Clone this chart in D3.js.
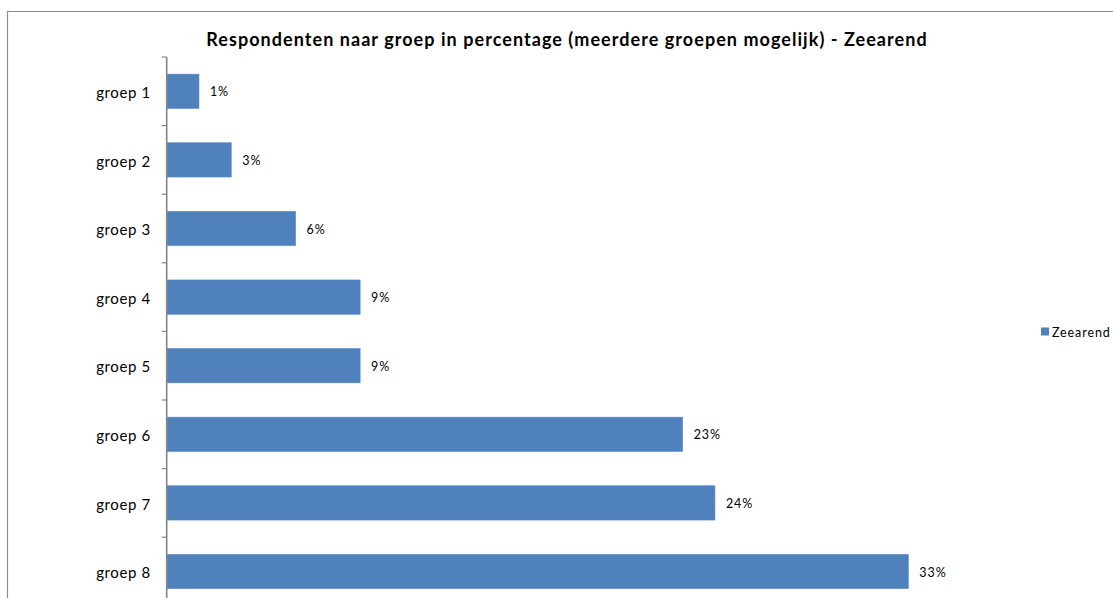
<!DOCTYPE html>
<html><head><meta charset="utf-8">
<script src="https://cdn.jsdelivr.net/npm/d3@7"></script>
<style>body{margin:0;background:#fff}svg{display:block}text{font-family:Lato,"Open Sans",sans-serif}</style>
</head><body><svg id="c" width="1113" height="598"></svg>
<script>
const categories = ["groep 1","groep 2","groep 3","groep 4","groep 5","groep 6","groep 7","groep 8"];
const values = [1.43, 2.86, 5.71, 8.57, 8.57, 22.86, 24.29, 32.86];
const seriesName = "Zeearend";
const titleText = "Respondenten naar groep in percentage (meerdere groepen mogelijk) - Zeearend";

const svg = d3.select("#c");
const plotLeft = 166.7, plotTop = 57, bandH = 68.6;
const x = d3.scaleLinear().domain([0, 35]).range([plotLeft, plotLeft + 35 * 22.57]);
const y = d3.scaleBand().domain(categories).range([plotTop, plotTop + bandH * categories.length]).paddingInner(0.5).paddingOuter(0.25);

// chart border
svg.append("path").attr("d", "M7.5,610V11.5H1120").attr("fill","none").attr("stroke","#8c8c8c").attr("stroke-width",1.2);

// title
svg.append("text").attr("x", 567).attr("y", 46).attr("text-anchor","middle")
  .attr("font-size", 18).attr("font-weight","bold").attr("letter-spacing", 1.05).attr("fill","#000").text(titleText);

// bars
svg.selectAll("rect.bar").data(values).join("rect").attr("class","bar")
  .attr("x", x(0)).attr("y", (d,i)=>y(categories[i]))
  .attr("width", d=>x(d)-x(0)).attr("height", y.bandwidth())
  .attr("fill","#4f81bd").attr("stroke","#5b8bc6").attr("stroke-width",0.6);

// data labels
svg.selectAll("text.lbl").data(values).join("text").attr("class","lbl")
  .attr("x", d=>x(d)+11).attr("y", (d,i)=>y(categories[i])+y.bandwidth()/2)
  .attr("dy","0.4em").attr("font-size", 12.5).attr("letter-spacing", 0.9).attr("fill","#000")
  .text(d=>Math.round(d)+"%");

// y axis
const yAxis = d3.axisLeft(y).tickSize(0).tickPadding(16);
const g = svg.append("g").attr("transform",`translate(${plotLeft},0)`).call(yAxis);
g.select(".domain").remove();
g.selectAll("text").attr("font-size", 15).attr("fill","#000").attr("letter-spacing", 0.6).attr("dy","0.45em").style("font-family","Lato,sans-serif");
// axis line and boundary ticks
svg.append("line").attr("x1",plotLeft).attr("x2",plotLeft).attr("y1",plotTop).attr("y2",plotTop+bandH*categories.length)
  .attr("stroke","#868686").attr("stroke-width",1.6);
const bounds = d3.range(categories.length+1).map(i=>plotTop+i*bandH);
svg.selectAll("line.tk").data(bounds).join("line").attr("class","tk")
  .attr("x1",plotLeft-5).attr("x2",plotLeft).attr("y1",d=>d).attr("y2",d=>d)
  .attr("stroke","#868686").attr("stroke-width",1.2);

// legend
const lg = svg.append("g").attr("transform","translate(1041,327.5)");
lg.append("rect").attr("width",8).attr("height",8).attr("fill","#4f81bd");
lg.append("text").attr("x",11).attr("y",4).attr("dy","0.4em").attr("font-size",12.5).attr("letter-spacing", 0.9).attr("fill","#000").text(seriesName);
</script></body></html>
